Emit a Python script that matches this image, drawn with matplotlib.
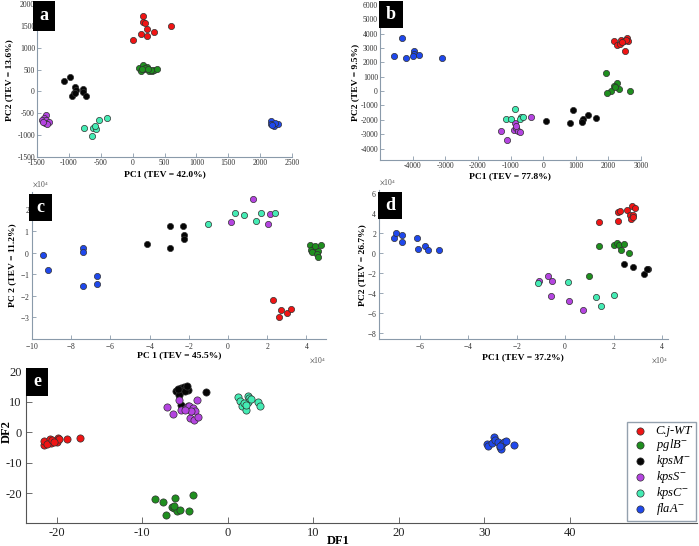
import matplotlib
matplotlib.use("Agg")
import matplotlib.pyplot as plt
from matplotlib.patches import Rectangle
from matplotlib.ticker import ScalarFormatter

plt.rcParams['font.family'] = ['Liberation Serif', 'DejaVu Serif']
plt.rcParams['mathtext.fontset'] = 'stix'
plt.rcParams['axes.unicode_minus'] = False

# ---------------- data ----------------
GROUPS = ["C.j-WT", "pglB$^{-}$", "kpsM$^{-}$", "kpsS$^{-}$", "kpsC$^{-}$", "flaA$^{-}$"]
COLORS = ["#f01414", "#1f8f1f", "#050505", "#b444e0", "#44ecb4", "#1f48ec"]

# Panel a
A_WT_X = [170, 160, 196, 222, 129, 227, 335, 10, 608]
A_WT_Y = [1735, 1598, 1568, 1438, 1317, 1263, 1355, 1180, 1499]
A_PGLB_X = [103, 155, 180, 222, 129, 258, 309, 335, 387, 196, 283, 144, 237]
A_PGLB_Y = [540, 594, 502, 563, 464, 464, 457, 487, 502, 525, 487, 502, 517]
A_KPSM_X = [-1072, -990, -902, -892, -918, -954, -778, -784, -732, -902]
A_KPSM_Y = [236, 327, 91, 30, -46, -99, 46, -15, -114, -30]
A_KPSS_X = [-1351, -1392, -1428, -1366, -1314, -1381, -1340, -1402]
A_KPSS_Y = [-540, -616, -654, -654, -692, -715, -746, -692]
A_KPSC_X = [-763, -619, -577, -634, -526, -402, -593]
A_KPSC_Y = [-829, -829, -868, -1020, -647, -609, -791]
A_FLAA_X = [2175, 2165, 2216, 2278, 2227, 2191]
A_FLAA_Y = [-677, -746, -791, -738, -715, -768]

# Panel b
B_WT_X = [2172, 2387, 2572, 2275, 2367, 2469, 2510, 2592, 2531, 2428]
B_WT_Y = [3480, 3596, 3689, 3202, 3248, 3480, 2784, 3457, 3550, 3434]
B_PGLB_X = [1916, 2254, 2162, 2070, 1967, 2326, 2664, 2203]
B_PGLB_Y = [1276, 580, 348, 23, -162, 116, 0, 255]
B_KPSM_X = [92, 902, 830, 1178, 1209, 1363, 1609, 1178]
B_KPSM_Y = [-2088, -1323, -2204, -2065, -1972, -1671, -1903, -2181]
B_KPSS_X = [-379, -1291, -1107, -850, -891, -820, -768, -697, -840]
B_KPSS_Y = [-1833, -2784, -3387, -2204, -2715, -2552, -2761, -2831, -2436]
B_KPSC_X = [-850, -1127, -973, -666, -717, -615]
B_KPSC_Y = [-1276, -1926, -1926, -1833, -1949, -1787]
B_FLAA_X = [-4334, -4559, -4201, -3945, -3965, -3975, -3791, -3094]
B_FLAA_Y = [3666, 2413, 2274, 2784, 2575, 2436, 2483, 2297]

# Panel c (x10^4)
C_WT_X = [2.32, 2.69, 2.58, 3.03, 3.22]
C_WT_Y = [-2.21, -2.68, -2.98, -2.80, -2.59]
C_PGLB_X = [4.19, 4.39, 4.73, 4.22, 4.47, 4.61, 4.31, 4.56, 4.61, 4.44]
C_PGLB_Y = [0.34, 0.23, 0.34, 0.14, 0.14, 0.08, 0.03, -0.05, -0.20, 0.29]
C_KPSM_X = [-4.15, -2.98, -2.31, -2.95, -2.25, -2.25]
C_KPSM_Y = [0.40, 1.22, 1.22, 0.20, 0.80, 0.62]
C_KPSS_X = [0.15, 1.25, 2.14, 2.02]
C_KPSS_Y = [1.42, 2.46, 1.76, 1.31]
C_KPSC_X = [-1.00, 0.34, 0.80, 1.42, 1.69, 2.42]
C_KPSC_Y = [1.34, 1.81, 1.73, 1.48, 1.84, 1.85]
C_FLAA_X = [-9.42, -9.17, -7.39, -7.39, -7.39, -6.66, -6.66]
C_FLAA_Y = [-0.12, -0.79, 0.22, 0.03, -1.54, -1.10, -1.45]

# Panel d (x10^4)
D_WT_X = [1.41, 2.17, 2.28, 2.17, 2.54, 2.76, 2.88, 2.69, 2.81, 2.72, 2.79]
D_WT_Y = [3.07, 4.10, 4.17, 3.17, 4.33, 4.73, 4.47, 3.77, 3.77, 3.40, 3.57]
D_PGLB_X = [1.39, 2.03, 2.14, 2.23, 2.44, 2.30, 2.62, 0.99]
D_PGLB_Y = [0.73, 0.80, 1.00, 0.80, 0.87, 0.27, 0.03, -2.27]
D_KPSM_X = [2.44, 2.80, 3.27, 3.41, 3.37]
D_KPSM_Y = [-1.13, -1.43, -2.10, -1.60, -1.57]
D_KPSS_X = [-1.10, -0.72, -0.55, -0.58, 0.14, 0.74]
D_KPSS_Y = [-2.83, -2.33, -2.77, -4.27, -4.83, -5.67]
D_KPSC_X = [-1.14, 0.12, 1.27, 1.50, 2.03]
D_KPSC_Y = [-3.00, -2.93, -4.40, -5.27, -4.20]
D_FLAA_X = [-7.10, -7.01, -6.73, -6.76, -6.14, -6.09, -5.81, -5.68, -5.20]
D_FLAA_Y = [1.50, 2.00, 1.83, 1.07, 1.50, 0.40, 0.73, 0.27, 0.33]

# Panel e
E_WT_X = [-21.5, -21.5, -20.8, -20.7, -20.1, -19.8, -20.0, -19.7, -18.8, -17.3, -21.1, -20.5, -20.3]
E_WT_Y = [-4.3, -2.9, -2.4, -3.5, -2.9, -1.8, -3.2, -2.2, -2.2, -1.8, -3.8, -2.7, -3.1]
E_PGLB_X = [-8.48, -7.54, -6.17, -4.10, -7.23, -6.56, -6.25, -5.94, -5.55, -4.57, -6.33]
E_PGLB_Y = [-22.0, -22.9, -21.5, -20.5, -27.2, -24.5, -25.0, -25.9, -25.6, -25.9, -24.3]
E_KPSM_X = [-6.05, -5.47, -5.16, -4.88, -4.61, -5.35, -5.00, -5.66, -5.47, -2.54, -5.86, -4.77]
E_KPSM_Y = [13.3, 14.3, 14.9, 14.6, 13.8, 13.3, 13.3, 12.2, 9.0, 13.1, 14.1, 15.2]
E_KPSS_X = [-7.15, -6.45, -5.66, -5.47, -4.88, -4.69, -4.49, -4.10, -3.79, -4.38, -3.98, -3.52, -3.59, -4.30, -5.00]
E_KPSS_Y = [8.3, 5.9, 10.6, 7.3, 7.9, 8.4, 8.7, 7.9, 7.0, 4.6, 3.8, 5.0, 10.6, 6.8, 7.3]
E_KPSC_X = [1.25, 1.48, 1.64, 2.15, 2.34, 2.54, 2.42, 1.88, 3.52, 3.83, 2.73, 2.15]
E_KPSC_Y = [11.4, 10.2, 8.7, 7.3, 11.7, 11.3, 10.0, 9.5, 9.8, 8.7, 10.9, 9.0]
E_FLAA_X = [30.3, 30.5, 30.9, 31.1, 31.3, 31.6, 31.8, 32.0, 32.1, 32.3, 32.6, 33.5, 31.9]
E_FLAA_Y = [-3.9, -4.5, -3.5, -1.5, -2.7, -3.3, -4.8, -5.4, -4.0, -3.4, -3.0, -4.4, -4.6]

PANELS = {
    "a": [(A_WT_X, A_WT_Y), (A_PGLB_X, A_PGLB_Y), (A_KPSM_X, A_KPSM_Y),
          (A_KPSS_X, A_KPSS_Y), (A_KPSC_X, A_KPSC_Y), (A_FLAA_X, A_FLAA_Y)],
    "b": [(B_WT_X, B_WT_Y), (B_PGLB_X, B_PGLB_Y), (B_KPSM_X, B_KPSM_Y),
          (B_KPSS_X, B_KPSS_Y), (B_KPSC_X, B_KPSC_Y), (B_FLAA_X, B_FLAA_Y)],
    "c": [(C_WT_X, C_WT_Y), (C_PGLB_X, C_PGLB_Y), (C_KPSM_X, C_KPSM_Y),
          (C_KPSS_X, C_KPSS_Y), (C_KPSC_X, C_KPSC_Y), (C_FLAA_X, C_FLAA_Y)],
    "d": [(D_WT_X, D_WT_Y), (D_PGLB_X, D_PGLB_Y), (D_KPSM_X, D_KPSM_Y),
          (D_KPSS_X, D_KPSS_Y), (D_KPSC_X, D_KPSC_Y), (D_FLAA_X, D_FLAA_Y)],
    "e": [(E_WT_X, E_WT_Y), (E_PGLB_X, E_PGLB_Y), (E_KPSM_X, E_KPSM_Y),
          (E_KPSS_X, E_KPSS_Y), (E_KPSC_X, E_KPSC_Y), (E_FLAA_X, E_FLAA_Y)],
}
SCALE = {"a": 1, "b": 1, "c": 1e4, "d": 1e4, "e": 1}

XLABELS = {"a": "PC1 (TEV = 42.0%)", "b": "PC1 (TEV = 77.8%)", "c": "PC 1 (TEV = 45.5%)",
           "d": "PC1 (TEV = 37.2%)", "e": "DF1"}
YLABELS = {"a": "PC2 (TEV = 13.6%)", "b": "PC2 (TEV = 9.5%)", "c": "PC 2 (TEV = 11.2%)",
           "d": "PC2 (TEV = 26.7%)", "e": "DF2"}

XTICKS = {"a": list(range(-1500, 2501, 500)), "b": list(range(-4000, 3001, 1000)),
          "c": [v * 1e4 for v in range(-10, 5, 2)], "d": [v * 1e4 for v in range(-6, 5, 2)],
          "e": list(range(-20, 41, 10))}
YTICKS = {"a": list(range(-1500, 2001, 500)), "b": list(range(-4000, 6001, 1000)),
          "c": [v * 1e4 for v in range(-3, 3)], "d": [v * 1e4 for v in range(-8, 7, 2)],
          "e": list(range(-20, 21, 10))}

# ---------------- layout ----------------
W, H = 699, 546
fig = plt.figure(figsize=(W / 100, H / 100), dpi=100)

def frac(l, t, r, b):
    return [l / W, 1 - b / H, (r - l) / W, (b - t) / H]

POS = {"a": frac(37, 4, 292, 157), "b": frac(380, 5, 641, 160),
       "c": frac(32, 192, 326, 339), "d": frac(379, 190, 668, 339),
       "e": frac(26, 369.5, 697, 523)}
XLIM = {"a": (-1500, 2500), "b": (-5000, 3000), "c": (-10e4, 5e4), "d": (-7.7e4, 4.25e4),
        "e": (-23.6, 54.9)}
YLIM = {"a": (-1500, 2000), "b": (-4800, 6000), "c": (-4e4, 2.8e4), "d": (-8.6e4, 6.3e4),
        "e": (-29.8, 20.5)}
BOXES = {"a": (33, 1, 55, 31), "b": (379, 1, 403, 28), "c": (29, 194, 52, 221),
         "d": (378, 192, 402, 219), "e": (26, 368, 48, 396)}

axes = {}
for key in ["a", "b", "c", "d", "e"]:
    ax = fig.add_axes(POS[key])
    axes[key] = ax
    small = key != "e"
    s = 20 if small else 27
    for (xs, ys), col, lab in zip(PANELS[key], COLORS, GROUPS):
        ax.scatter([v * SCALE[key] for v in xs], [v * SCALE[key] for v in ys],
                   s=s, c=col, edgecolors="#303030", linewidths=0.5, label=lab, zorder=3)
    ax.set_xlim(XLIM[key])
    ax.set_ylim(YLIM[key])
    ax.set_xticks(XTICKS[key])
    ax.set_yticks(YTICKS[key])
    for sp in ["top", "right"]:
        ax.spines[sp].set_visible(False)
    spc = "#8a9aaa" if small else "#555555"
    for sp in ["left", "bottom"]:
        ax.spines[sp].set_color(spc)
        ax.spines[sp].set_linewidth(0.8)
    ax.tick_params(direction="in", length=3 if small else 4, width=0.6, colors=spc,
                   labelcolor="#303030" if small else "#222222",
                   labelsize=5.5 if small else 9, pad=1.5 if small else 3)
    if key in ("c", "d"):
        for axis in (ax.xaxis, ax.yaxis):
            fmt = ScalarFormatter(useMathText=True)
            fmt.set_powerlimits((4, 4))
            axis.set_major_formatter(fmt)
            axis.get_offset_text().set_fontsize(5.5)
            axis.get_offset_text().set_color("#505050")
    lsize = 6.8 if small else 9
    ax.set_xlabel(XLABELS[key], fontsize=lsize, fontweight="bold")
    ax.set_ylabel(YLABELS[key], fontsize=lsize, fontweight="bold")
    # panel letter box
    l, t, r, b = BOXES[key]
    fig.patches.append(Rectangle((l / W, 1 - b / H), (r - l) / W, (b - t) / H,
                                 transform=fig.transFigure, facecolor="black",
                                 edgecolor="none", zorder=5))
    fig.text((l + r) / 2 / W, 1 - (t + b) / 2 / H, key, color="white", fontsize=13,
             fontweight="bold", ha="center", va="center", zorder=6)

# label positions (pixels)
def set_lbl(ax, xl, yl):
    ax.xaxis.set_label_coords(*xl, transform=fig.transFigure)
    ax.yaxis.set_label_coords(*yl, transform=fig.transFigure)

set_lbl(axes["a"], (164.5 / W, 1 - 174 / H), (9 / W, 1 - 80 / H))
set_lbl(axes["b"], (510 / W, 1 - 176 / H), (355 / W, 1 - 82 / H))
set_lbl(axes["c"], (179 / W, 1 - 355 / H), (12 / W, 1 - 265 / H))
set_lbl(axes["d"], (523 / W, 1 - 357 / H), (362 / W, 1 - 265 / H))
set_lbl(axes["e"], (338 / W, 1 - 541 / H), (7 / W, 1 - 432 / H))
for k in ["a", "b", "c", "d", "e"]:
    axes[k].xaxis.label.set_va("center")
    axes[k].yaxis.label.set_va("center")

leg = axes["e"].legend(loc="lower right", bbox_to_anchor=(696 / W, 1 - 521 / H),
                       bbox_transform=fig.transFigure, borderaxespad=0,
                       prop={"family": "Liberation Serif", "style": "italic", "size": 9},
                       frameon=True, fancybox=False, labelspacing=0.0,
                       handlelength=1.4, handletextpad=0.6, borderpad=0.3,
                       scatterpoints=1)
leg.get_frame().set_edgecolor("#7a8a9a")
leg.get_frame().set_linewidth(1.0)

fig.savefig("out.png", dpi=100)
